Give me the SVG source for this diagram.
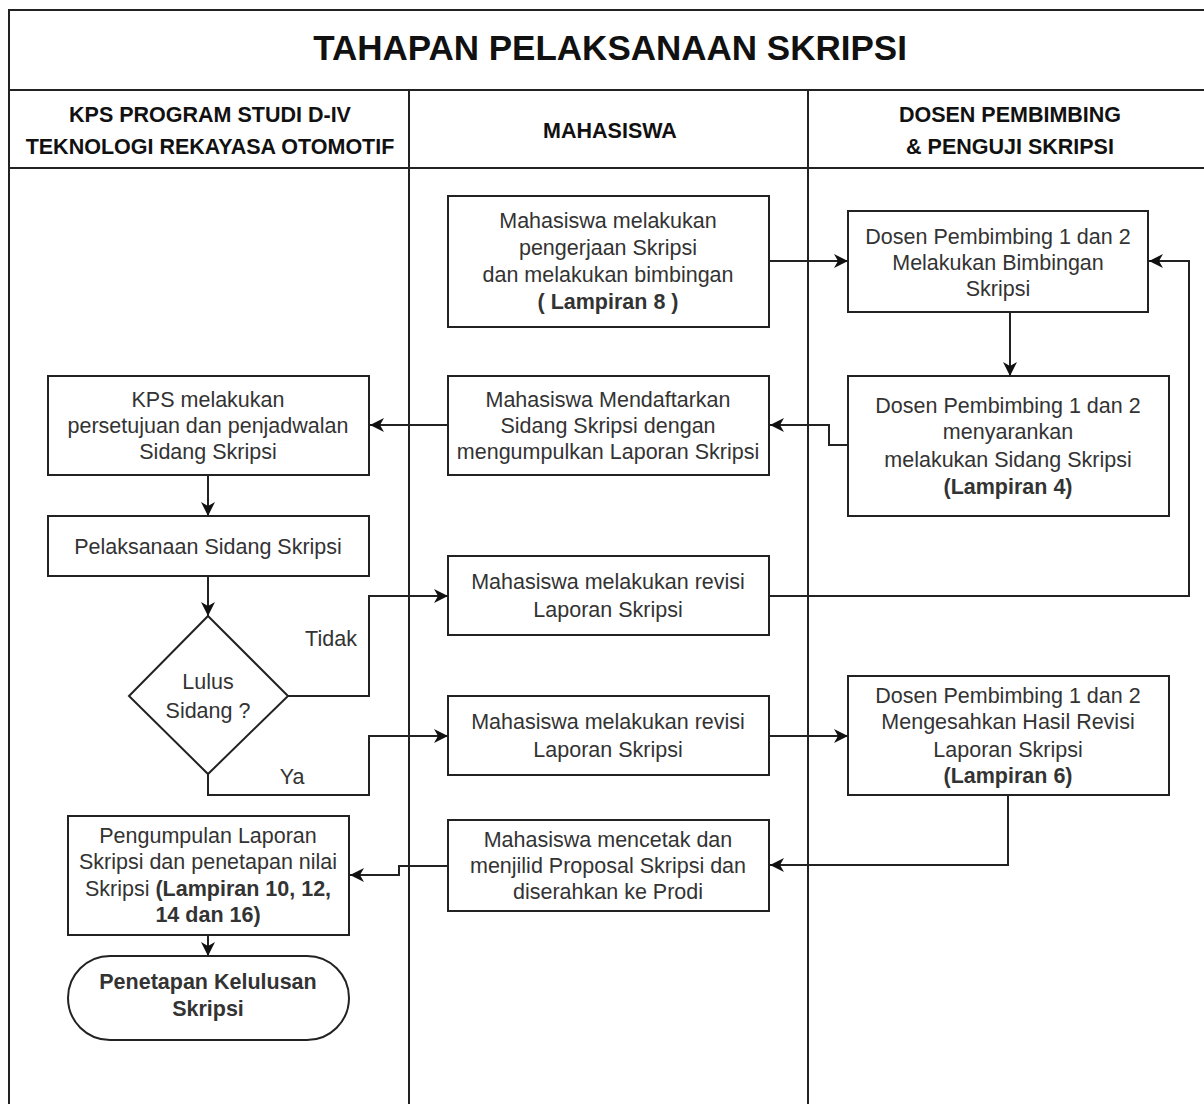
<svg xmlns="http://www.w3.org/2000/svg" width="1204" height="1104" viewBox="0 0 1204 1104">
<style>
.frame{fill:none;stroke:#222;stroke-width:2}
.box{fill:#fff;stroke:#222;stroke-width:2}
.t{font-family:"Liberation Sans",Arial,sans-serif;font-size:21.5px;fill:#333;text-anchor:middle}
.b{font-weight:bold}
.h{font-family:"Liberation Sans",Arial,sans-serif;font-size:21.5px;font-weight:bold;fill:#111;text-anchor:middle}
.title{font-family:"Liberation Sans",Arial,sans-serif;font-size:35px;font-weight:bold;fill:#111;text-anchor:middle}
.c{fill:none;stroke:#222;stroke-width:2}
</style>
<defs>
<marker id="arr" markerUnits="userSpaceOnUse" markerWidth="16" markerHeight="14" refX="14" refY="7" orient="auto">
<path d="M0,0 L14,7 L0,14 L4,7 Z" fill="#111"/>
</marker>
</defs>
<rect width="1204" height="1104" fill="#fff"/>
<g id="pool">
<rect class="frame" x="9" y="10" width="1205" height="1110"/>
<line class="frame" x1="9" y1="90" x2="1204" y2="90"/>
<line class="frame" x1="9" y1="168" x2="1204" y2="168"/>
<line class="frame" x1="409" y1="90" x2="409" y2="1104"/>
<line class="frame" x1="808" y1="90" x2="808" y2="1104"/>
<text class="title" x="610" y="60">TAHAPAN PELAKSANAAN SKRIPSI</text>
<text class="h" x="210" y="122">KPS PROGRAM STUDI D-IV</text>
<text class="h" x="210" y="154">TEKNOLOGI REKAYASA OTOMOTIF</text>
<text class="h" x="610" y="138">MAHASISWA</text>
<text class="h" x="1010" y="122">DOSEN PEMBIMBING</text>
<text class="h" x="1010" y="154">&amp; PENGUJI SKRIPSI</text>
</g>
<g id="connectors">
<path class="c" d="M769,261 H848" marker-end="url(#arr)"/>
<path class="c" d="M1010,312 V376" marker-end="url(#arr)"/>
<path class="c" d="M848,445 H829 V425 H770" marker-end="url(#arr)"/>
<path class="c" d="M448,425 H370" marker-end="url(#arr)"/>
<path class="c" d="M208,475 V516" marker-end="url(#arr)"/>
<path class="c" d="M208,576 V616" marker-end="url(#arr)"/>
<path class="c" d="M288,696 H369 V596 H448" marker-end="url(#arr)"/>
<path class="c" d="M208,774 V795 H369 V736 H448" marker-end="url(#arr)"/>
<path class="c" d="M769,596 H1189 V261 H1149" marker-end="url(#arr)"/>
<path class="c" d="M769,736 H848" marker-end="url(#arr)"/>
<path class="c" d="M1008,795 V865 H770" marker-end="url(#arr)"/>
<path class="c" d="M448,866 H399 V875 H350" marker-end="url(#arr)"/>
<path class="c" d="M208,935 V956" marker-end="url(#arr)"/>
<text class="t" x="331" y="646">Tidak</text>
<text class="t" x="292" y="784">Ya</text>
</g>
<g id="m1">
<rect class="box" x="448" y="196" width="321" height="131"/>
<text class="t" x="608" y="228">Mahasiswa melakukan</text>
<text class="t" x="608" y="255">pengerjaan Skripsi</text>
<text class="t" x="608" y="282">dan melakukan bimbingan</text>
<text class="t b" x="608" y="309">( Lampiran 8 )</text>
</g>
<g id="d1">
<rect class="box" x="848" y="211" width="300" height="101"/>
<text class="t" x="998" y="244">Dosen Pembimbing 1 dan 2</text>
<text class="t" x="998" y="270">Melakukan Bimbingan</text>
<text class="t" x="998" y="296">Skripsi</text>
</g>
<g id="d2">
<rect class="box" x="848" y="376" width="321" height="140"/>
<text class="t" x="1008" y="413">Dosen Pembimbing 1 dan 2</text>
<text class="t" x="1008" y="439">menyarankan</text>
<text class="t" x="1008" y="467">melakukan Sidang Skripsi</text>
<text class="t b" x="1008" y="494">(Lampiran 4)</text>
</g>
<g id="m2">
<rect class="box" x="448" y="376" width="321" height="99"/>
<text class="t" x="608" y="407">Mahasiswa Mendaftarkan</text>
<text class="t" x="608" y="433">Sidang Skripsi dengan</text>
<text class="t" x="608" y="459">mengumpulkan Laporan Skripsi</text>
</g>
<g id="k1">
<rect class="box" x="48" y="376" width="321" height="99"/>
<text class="t" x="208" y="407">KPS melakukan</text>
<text class="t" x="208" y="433">persetujuan dan penjadwalan</text>
<text class="t" x="208" y="459">Sidang Skripsi</text>
</g>
<g id="k2">
<rect class="box" x="48" y="516" width="321" height="60"/>
<text class="t" x="208" y="554">Pelaksanaan Sidang Skripsi</text>
</g>
<g id="decision">
<path class="box" d="M208,616 L288,696 L208,774 L129,696 Z"/>
<text class="t" x="208" y="689">Lulus</text>
<text class="t" x="208" y="718">Sidang ?</text>
</g>
<g id="m3">
<rect class="box" x="448" y="556" width="321" height="79"/>
<text class="t" x="608" y="589">Mahasiswa melakukan revisi</text>
<text class="t" x="608" y="617">Laporan Skripsi</text>
</g>
<g id="m4">
<rect class="box" x="448" y="696" width="321" height="79"/>
<text class="t" x="608" y="729">Mahasiswa melakukan revisi</text>
<text class="t" x="608" y="757">Laporan Skripsi</text>
</g>
<g id="d3">
<rect class="box" x="848" y="676" width="321" height="119"/>
<text class="t" x="1008" y="703">Dosen Pembimbing 1 dan 2</text>
<text class="t" x="1008" y="729">Mengesahkan Hasil Revisi</text>
<text class="t" x="1008" y="757">Laporan Skripsi</text>
<text class="t b" x="1008" y="783">(Lampiran 6)</text>
</g>
<g id="m5">
<rect class="box" x="448" y="820" width="321" height="91"/>
<text class="t" x="608" y="847">Mahasiswa mencetak dan</text>
<text class="t" x="608" y="873">menjilid Proposal Skripsi dan</text>
<text class="t" x="608" y="899">diserahkan ke Prodi</text>
</g>
<g id="k3">
<rect class="box" x="68" y="816" width="281" height="119"/>
<text class="t" x="208" y="843">Pengumpulan Laporan</text>
<text class="t" x="208" y="869">Skripsi dan penetapan nilai</text>
<text class="t" x="208" y="896">Skripsi <tspan class="b">(Lampiran 10, 12,</tspan></text>
<text class="t b" x="208" y="922">14 dan 16)</text>
</g>
<g id="end">
<rect class="box" x="68" y="956" width="281" height="84" rx="42" ry="42"/>
<text class="t b" x="208" y="989">Penetapan Kelulusan</text>
<text class="t b" x="208" y="1016">Skripsi</text>
</g>
</svg>
